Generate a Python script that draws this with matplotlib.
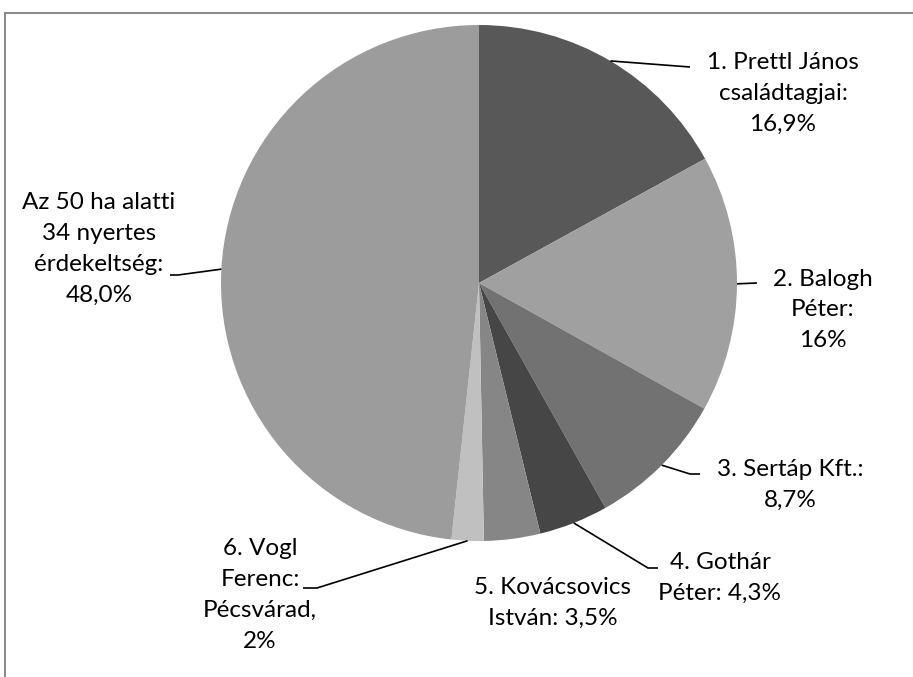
import numpy as np
import matplotlib
matplotlib.use("Agg")
import matplotlib.pyplot as plt
from matplotlib.patches import Rectangle

# adatok
labels = [
    "1. Prettl János\ncsaládtagjai:\n16,9%",
    "2. Balogh\nPéter:\n16%",
    "3. Sertáp Kft.:\n8,7%",
    "4. Gothár\nPéter: 4,3%",
    "5. Kovácsovics\nIstván: 3,5%",
    "6. Vogl\nFerenc:\nPécsvárad,\n2%",
    "Az 50 ha alatti\n34 nyertes\nérdekeltség:\n48,0%",
]
values = [16.9, 16, 8.7, 4.3, 3.5, 2, 48.0]
colors = ["#585858", "#a0a0a0", "#727272", "#464646", "#868686", "#c0c0c0", "#9c9c9c"]

# elrendezés (pixel, y lefelé)
W, H = 913, 677
cx, cy, R = 479, 283, 258
label_xy = [(783, 93), (823, 310), (790, 485), (720, 578), (553, 603), (260, 595), (99, 249)]
leader_end = [(690, 67), (757, 283), (700, 474), (658, 568), None, (303, 588), (170, 275)]
leader_knee = [None, None, (690, 474), (648, 568), None, (317, 588), (178, 275)]

fig = plt.figure(figsize=(W / 100, H / 100), dpi=100)
ax = fig.add_axes([0, 0, 1, 1])
ax.axis("off")

ax.add_patch(Rectangle((5, -20), W + 20, H - 13 + 20, fill=False,
                       edgecolor="#8c8c8c", lw=1.5))

wedges, _ = ax.pie(values, colors=colors, startangle=90, counterclock=False,
                   center=(cx, H - cy), radius=R,
                   wedgeprops=dict(edgecolor="none"))
ax.set_xlim(0, W)
ax.set_ylim(0, H)
ax.set_aspect("equal")

for w, lab, (tx, ty), end, knee in zip(wedges, labels, label_xy, leader_end, leader_knee):
    mid = np.deg2rad((w.theta1 + w.theta2) / 2)
    px, py = cx + R * np.cos(mid), (H - cy) + R * np.sin(mid)
    if end is not None:
        xs, ys = [px], [py]
        if knee is not None:
            xs.append(knee[0]); ys.append(H - knee[1])
        xs.append(end[0]); ys.append(H - end[1])
        ax.plot(xs, ys, color="black", lw=1.2, solid_capstyle="butt")
    ax.text(tx, H - ty, lab, ha="center", va="center", multialignment="center",
            fontsize=17.5, family="Lato", linespacing=1.58, color="black")

fig.savefig("out.png", dpi=100)
